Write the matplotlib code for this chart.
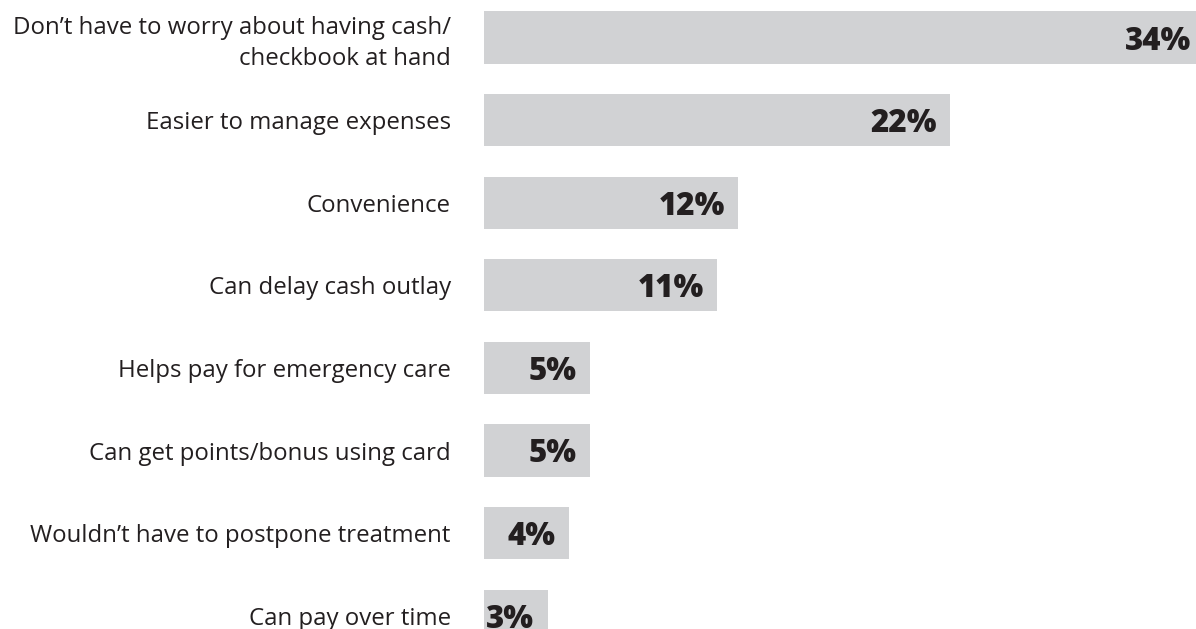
import matplotlib.pyplot as plt

reasons = [
    "Don\u2019t have to worry about having cash/\ncheckbook at hand",
    "Easier to manage expenses",
    "Convenience",
    "Can delay cash outlay",
    "Helps pay for emergency care",
    "Can get points/bonus using card",
    "Wouldn\u2019t have to postpone treatment",
    "Can pay over time",
]
shares = [34, 22, 12, 11, 5, 5, 4, 3]

plt.rcParams['font.family'] = ['Open Sans', 'DejaVu Sans']

fig = plt.figure(figsize=(11.96, 6.29), dpi=100)
# axes runs from the bar baseline to the right edge, full height
ax = fig.add_axes([484 / 1196, 0, 1 - 484 / 1196, 1])

pos = list(range(len(reasons)))
ax.barh(pos, shares, height=0.63, color='#d1d2d4')

for p, v in zip(pos, shares):
    ax.annotate(f"{v}%", xy=(v, p), xytext=(-9.5, 0), textcoords='offset points',
                ha='right', va='center_baseline', fontsize=22.5, fontweight=800,
                color='#231f20', annotation_clip=False)

ax.set_xlim(0, (1196 - 484) / 21.2)
ax.set_ylim((629 - 37.5) / 82.6, -37.5 / 82.6)
ax.set_yticks(pos)
ax.set_yticklabels(reasons, fontsize=17.3, color='#231f20', linespacing=1.35)
ax.tick_params(axis='y', length=0, pad=24)
ax.set_xticks([])
for s in ax.spines.values():
    s.set_visible(False)

fig.savefig('out.png', dpi=100)
